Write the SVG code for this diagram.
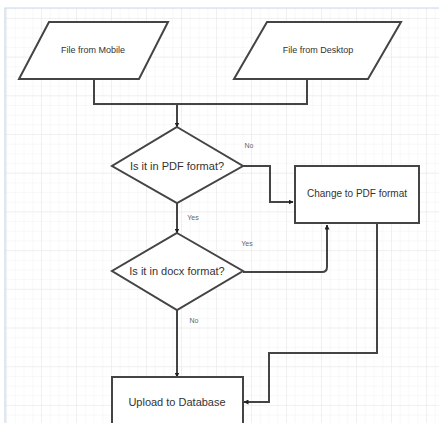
<svg xmlns="http://www.w3.org/2000/svg" width="439" height="423" viewBox="0 0 439 423">
<defs>
<pattern id="minor" x="7" y="18.9" width="8.75" height="9.675" patternUnits="userSpaceOnUse">
<path d="M8.75 0V9.675M0 9.675H8.75" fill="none" stroke="#f2f2f2" stroke-width="1"/>
</pattern>
<pattern id="major" x="7" y="18.9" width="35" height="38.7" patternUnits="userSpaceOnUse">
<path d="M35 0V38.7M0 38.7H35" fill="none" stroke="#e8e8e8" stroke-width="1"/>
</pattern>
<marker id="arr" viewBox="0 0 10 10" refX="9" refY="5" markerWidth="5" markerHeight="5" orient="auto" markerUnits="userSpaceOnUse">
<path d="M0 0L10 5L0 10z" fill="#222"/>
</marker>
</defs>
<style>
.shape{fill:#fff;stroke:#444;stroke-width:2}
.edge{fill:none;stroke:#444;stroke-width:2}
.t{font-family:"Liberation Sans",Arial,sans-serif;fill:#333;text-anchor:middle}
.s{font-size:9px}
.m{font-size:11px}
.lbl{font-family:"Liberation Sans",Arial,sans-serif;font-size:7px;fill:#666;text-anchor:middle}
</style>
<rect width="439" height="423" fill="#fff"/>
<rect x="5" y="8" width="434" height="415" fill="url(#minor)"/>
<rect x="5" y="8" width="434" height="415" fill="url(#major)"/>
<path d="M5 423V8H439" fill="none" stroke="#c8daee" stroke-width="1.2"/>
<g id="connectors">
<path class="edge" d="M94 79V104H307V79"/>
<path class="edge" d="M177 104V127" marker-end="url(#arr)"/>
<path class="edge" d="M243 166H270V202H293" marker-end="url(#arr)"/>
<path class="edge" d="M177 203V233" marker-end="url(#arr)"/>
<path class="edge" d="M243 272H322Q327 272 327 267V225" marker-end="url(#arr)"/>
<path class="edge" d="M177 310V377" marker-end="url(#arr)"/>
<path class="edge" d="M377 223V353H269V402H244" marker-end="url(#arr)"/>
<text class="lbl" x="249" y="148">No</text>
<text class="lbl" x="193" y="220">Yes</text>
<text class="lbl" x="247" y="246">Yes</text>
<text class="lbl" x="194" y="323">No</text>
</g>
<g id="mobile">
<polygon class="shape" points="49,22 168,22 139,79 19,79"/>
<text class="t s" x="93" y="53">File from Mobile</text>
</g>
<g id="desktop">
<polygon class="shape" points="267,22 401,22 368,79 234,79"/>
<text class="t s" x="318" y="53">File from Desktop</text>
</g>
<g id="pdfq">
<polygon class="shape" points="177,127 243,166 177,203 112,166"/>
<text class="t m" x="177" y="170">Is it in PDF format?</text>
</g>
<g id="docxq">
<polygon class="shape" points="177,233 243,271 177,310 112,271"/>
<text class="t m" x="177" y="275">Is it in docx format?</text>
</g>
<g id="change">
<rect class="shape" x="295" y="166" width="124" height="57"/>
<text class="t" style="font-size:10px" x="357" y="197">Change to PDF format</text>
</g>
<g id="upload">
<rect class="shape" x="112" y="377" width="131" height="60"/>
<text class="t m" x="177" y="406">Upload to Database</text>
</g>
</svg>
